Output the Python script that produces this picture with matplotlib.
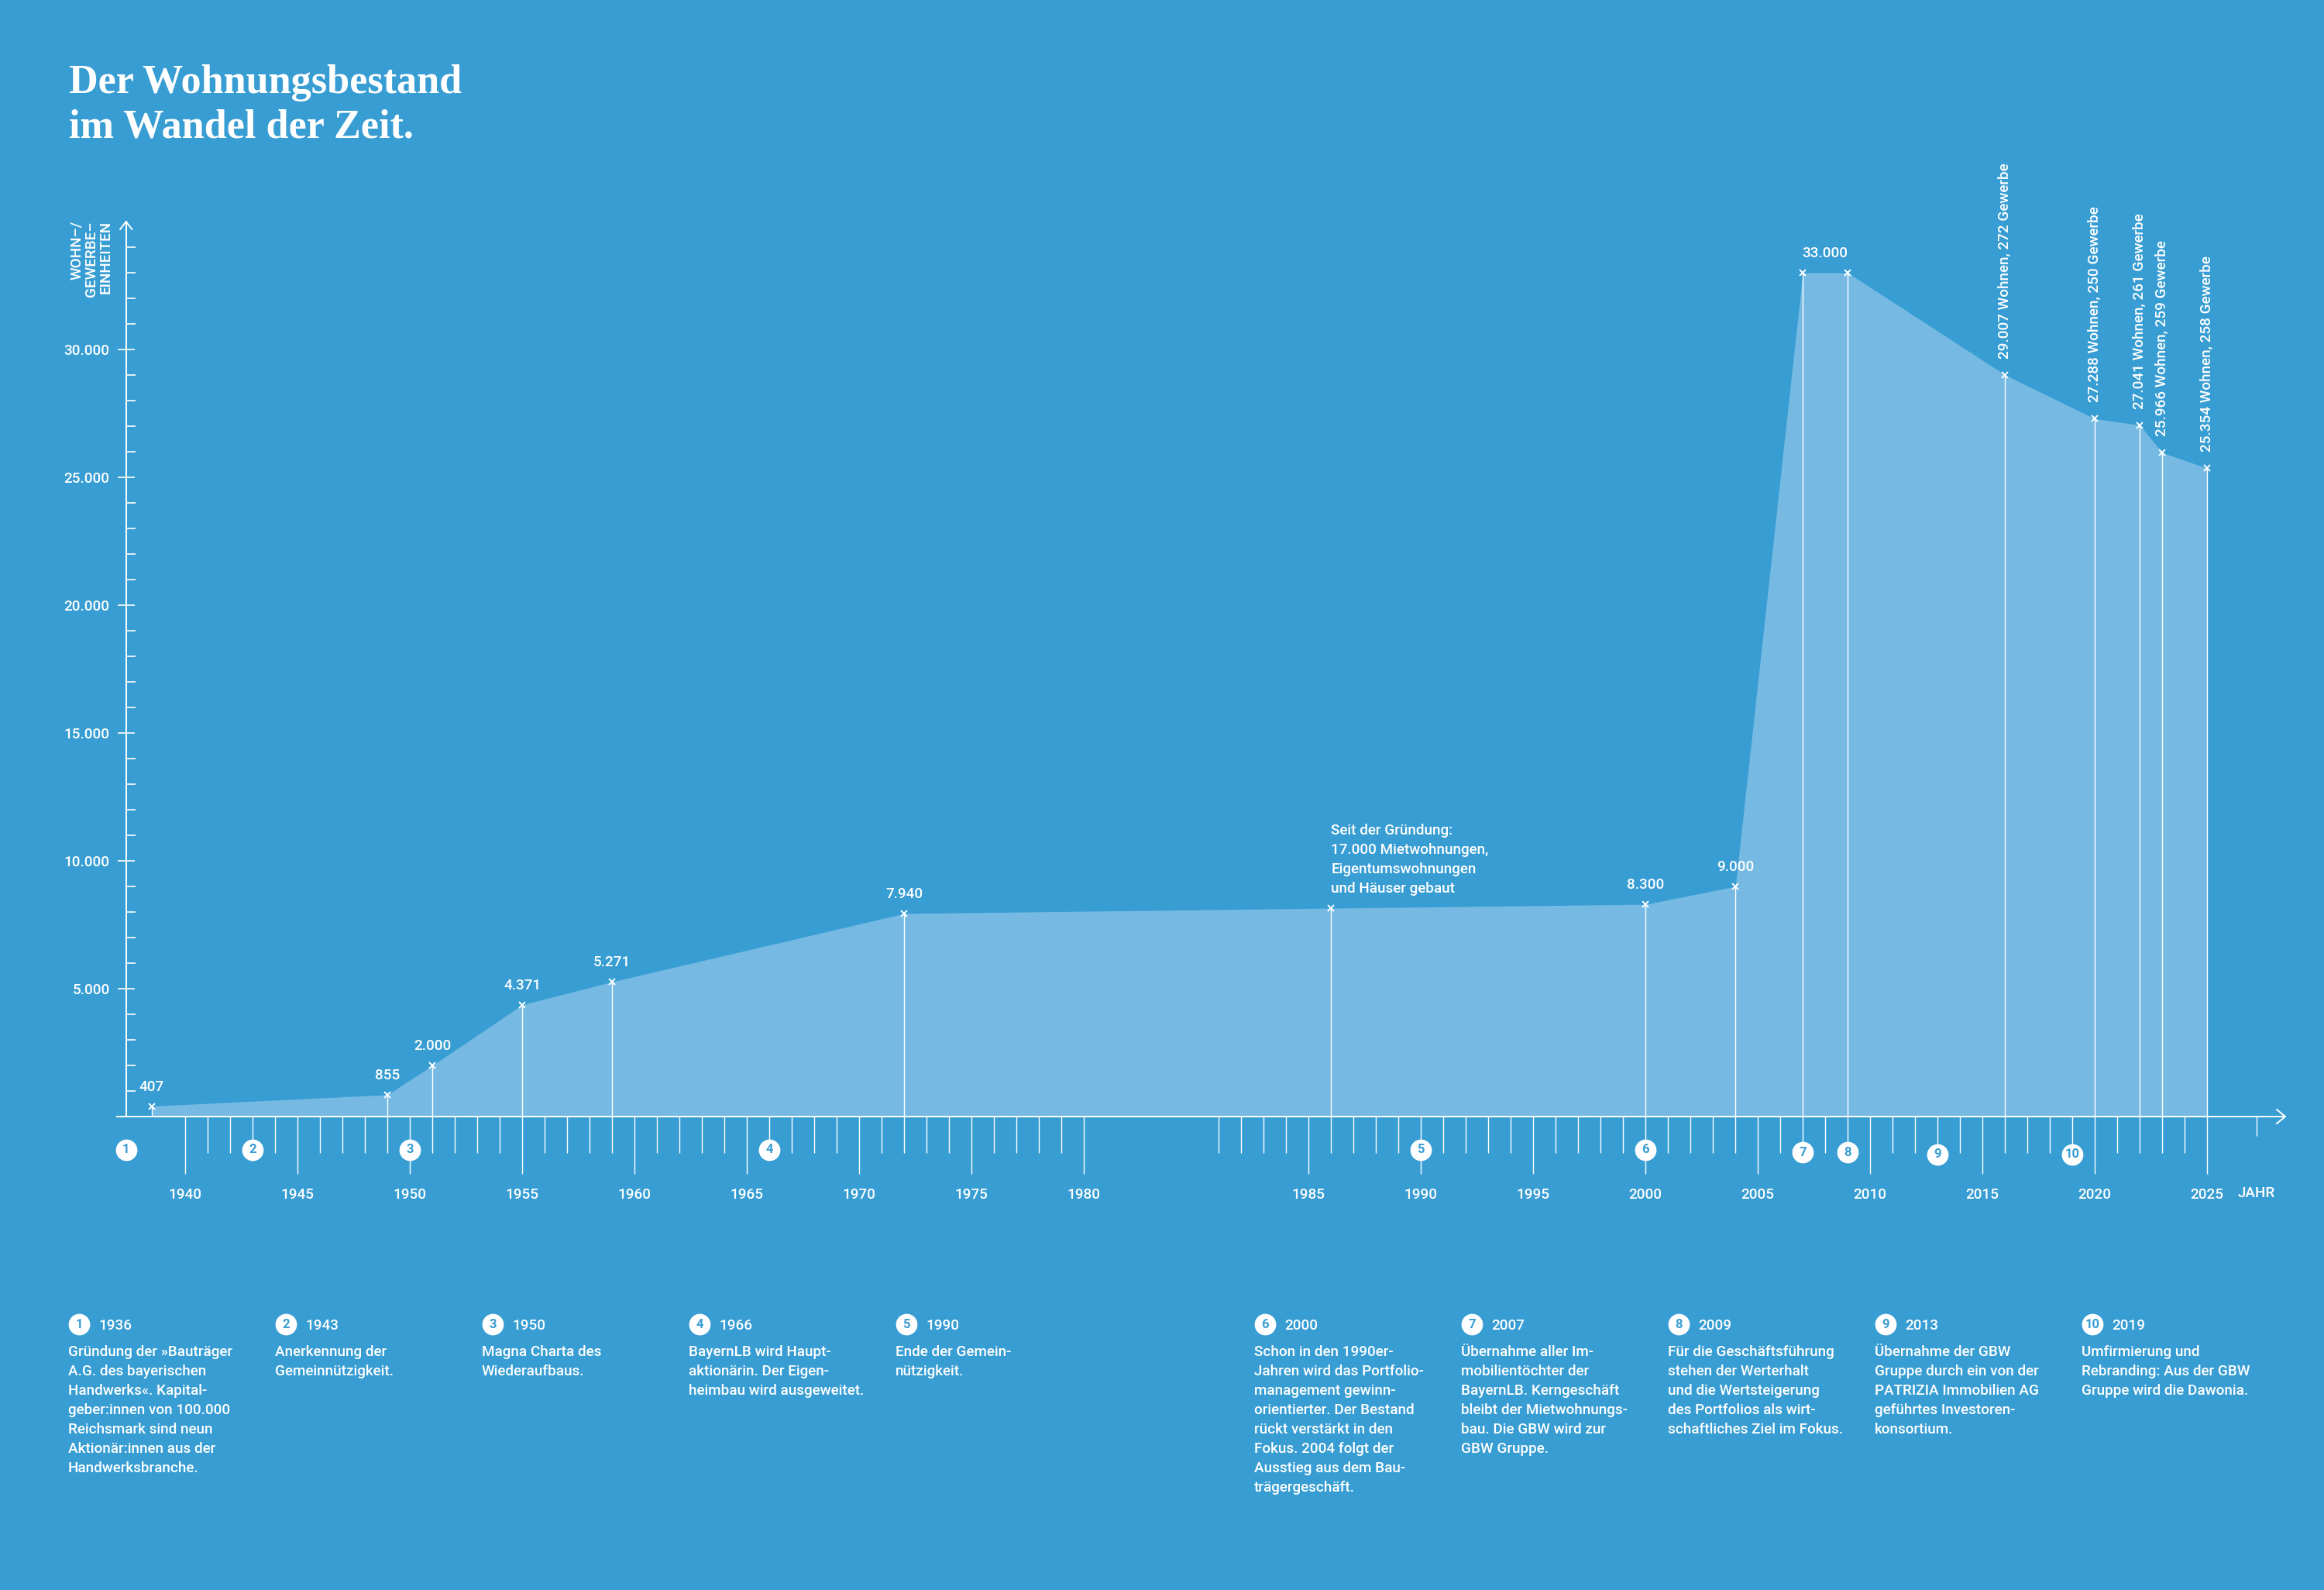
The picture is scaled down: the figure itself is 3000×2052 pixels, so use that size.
"""Wohnungsbestand timeline: filled area over a broken year axis, with event notes."""

import matplotlib

matplotlib.use("Agg")
import matplotlib.pyplot as plt

BG = "#379DD3"
FILL = "#76BAE3"
WHITE = "#FFFFFF"

# stock of flats / commercial units
years = [1938.5, 1949, 1951, 1955, 1959, 1972, 1986, 2000, 2004,
         2007, 2009, 2016, 2020, 2022, 2023, 2025]
units = [407, 855, 2000, 4371, 5271, 7940, 8150, 8300, 9000,
         33000, 33000, 29007, 27288, 27041, 25966, 25354]
point_labels = ["407", "855", "2.000", "4.371", "5.271", "7.940", None, "8.300", "9.000",
                "33.000", "33.000",
                "29.007 Wohnen, 272 Gewerbe", "27.288 Wohnen, 250 Gewerbe",
                "27.041 Wohnen, 261 Gewerbe", "25.966 Wohnen, 259 Gewerbe",
                "25.354 Wohnen, 258 Gewerbe"]
note_year = 1986
note_lines = ["Seit der Gründung:", "17.000 Mietwohnungen,",
              "Eigentumswohnungen", "und Häuser gebaut"]

event_years = [1936, 1943, 1950, 1966, 1990, 2000, 2007, 2009, 2013, 2019]
event_texts = [
    ["Gründung der »Bauträger", "A.G. des bayerischen", "Handwerks«. Kapital-",
     "geber:innen von 100.000", "Reichsmark sind neun", "Aktionär:innen aus der",
     "Handwerksbranche."],
    ["Anerkennung der", "Gemeinnützigkeit."],
    ["Magna Charta des", "Wiederaufbaus."],
    ["BayernLB wird Haupt-", "aktionärin. Der Eigen-", "heimbau wird ausgeweitet."],
    ["Ende der Gemein-", "nützigkeit."],
    ["Schon in den 1990er-", "Jahren wird das Portfolio-", "management gewinn-",
     "orientierter. Der Bestand", "rückt verstärkt in den", "Fokus. 2004 folgt der",
     "Ausstieg aus dem Bau-", "trägergeschäft."],
    ["Übernahme aller Im-", "mobilientöchter der", "BayernLB. Kerngeschäft",
     "bleibt der Mietwohnungs-", "bau. Die GBW wird zur", "GBW Gruppe."],
    ["Für die Geschäftsführung", "stehen der Werterhalt", "und die Wertsteigerung",
     "des Portfolios als wirt-", "schaftliches Ziel im Fokus."],
    ["Übernahme der GBW", "Gruppe durch ein von der", "PATRIZIA Immobilien AG",
     "geführtes Investoren-", "konsortium."],
    ["Umfirmierung und", "Rebranding: Aus der GBW", "Gruppe wird die Dawonia."],
]

tick_years = list(range(1940, 1981)) + list(range(1981, 2026))
y_major = [5000, 10000, 15000, 20000, 25000, 30000]
y_minor = [v for v in range(1000, 35000, 1000) if v % 5000]

# ---- layout (pixels of the 3000x2052 canvas) ----
W, H, DPI = 3000, 2052, 200
PT = 72 / DPI                      # points per pixel
X1940, PPY = 239.2, 29.0           # px of 1940, px per year
AX_L, AX_R = 151, 2950
Y0_PX, PPU = 1441, 0.033           # px of zero line, px per unit
Y_TOP = 35000
GAP_AFTER, GAP = 1980.5, 5         # axis break between 1980 and 1981
YAXIS_T = 1940 + (162.7 - X1940) / PPY
FS = 6.8
TXT = dict(color=WHITE, fontsize=FS, fontweight="medium")


def tx(year):
    return year + GAP if year > GAP_AFTER else year


def dy(px):
    return px / PPU


plt.rcParams.update({"font.family": ["Roboto", "Liberation Sans", "DejaVu Sans"],
                     "font.size": FS, "font.weight": "medium"})
fig = plt.figure(figsize=(W / DPI, H / DPI), dpi=DPI, facecolor=BG)
top_px = Y0_PX - Y_TOP * PPU
ax = fig.add_axes([AX_L / W, 1 - Y0_PX / H, (AX_R - AX_L) / W, (Y0_PX - top_px) / H])
ax.set_facecolor("none")
ax.set_xlim(1940 + (AX_L - X1940) / PPY, 1940 + (AX_R - X1940) / PPY)
ax.set_ylim(0, Y_TOP)

ts = [tx(y) for y in years]
ax.fill_between(ts, units, 0, color=FILL, lw=0, zorder=1)
ax.vlines(ts, 0, units, color=WHITE, lw=0.5, zorder=3)
ax.plot(ts, units, "x", ms=3, mew=0.7, color=WHITE, zorder=4)

# value labels
i = 0
while i < len(ts):
    lab = point_labels[i]
    if lab is None:
        i += 1
        continue
    if "Wohnen" in lab:
        ax.annotate(lab, (ts[i], units[i]), xytext=(0, 21 * PT), textcoords="offset points",
                    rotation=90, ha="center", va="bottom", **TXT)
        i += 1
        continue
    j = i
    while j + 1 < len(ts) and point_labels[j + 1] == lab:
        j += 1
    xc = (ts[i] + ts[j]) / 2
    ax.annotate(lab, (xc, units[i]), xytext=(0, 25 * PT), textcoords="offset points",
                ha="center", va="center", **TXT)
    i = j + 1

k = years.index(note_year)
for n, line in enumerate(reversed(note_lines)):
    ax.annotate(line, (ts[k], units[k]), xytext=(0, (20 + 25 * n) * PT),
                textcoords="offset points", ha="left", va="baseline", **TXT)

# axes, ticks
for side in ("top", "right"):
    ax.spines[side].set_visible(False)
ax.spines["left"].set_position(("data", YAXIS_T))
for side in ("left", "bottom"):
    ax.spines[side].set_color(WHITE)
    ax.spines[side].set_linewidth(0.7)
    ax.spines[side].set_zorder(3)

major = [y for y in tick_years if y % 5 == 0]
minor = [y for y in tick_years if y % 5]
ax.set_xticks([tx(y) for y in major], [str(y) for y in major])
ax.set_xticks([tx(y) for y in minor], minor=True)
ax.tick_params(axis="x", which="major", length=74 * PT, width=0.5, color=WHITE,
               labelcolor=WHITE, labelsize=FS, pad=18 * PT)
ax.tick_params(axis="x", which="minor", length=47 * PT, width=0.5, color=WHITE)

ax.set_yticks(y_major, [f"{v:,}".replace(",", ".") for v in y_major])
ax.set_yticks(y_minor, minor=True)
ax.tick_params(axis="y", which="major", direction="inout", length=22 * PT, width=0.6,
               color=WHITE, labelcolor=WHITE, labelsize=FS, pad=10 * PT)
ax.tick_params(axis="y", which="minor", direction="in", length=12 * PT, width=0.6,
               color=WHITE)

# "JAHR" end marker
jahr_t = tx(2027.2)
ax.vlines(jahr_t, -dy(25), 0, color=WHITE, lw=0.5, clip_on=False)
ax.text(jahr_t, -dy(99), "JAHR", ha="center", va="center", **TXT)

# event badges on the axis
badge_drop = [43, 43, 43, 43, 43, 43, 46, 46, 49, 49]
for n, (ey, drop) in enumerate(zip(event_years, badge_drop), start=1):
    bx = max(tx(ey), YAXIS_T)
    ax.plot(bx, -dy(drop), "o", ms=10, color=WHITE, mec="none", clip_on=False, zorder=5)
    ax.text(bx, -dy(drop), str(n), ha="center", va="center", color=BG,
            fontsize=6, fontweight="bold", zorder=6)

# ---- overlay in pixel coordinates: title, arrows, y label, footnotes ----
ov = fig.add_axes([0, 0, 1, 1])
ov.set_xlim(0, W)
ov.set_ylim(H, 0)
ov.axis("off")
ov.patch.set_alpha(0)

for n, line in enumerate(["Der Wohnungsbestand", "im Wandel der Zeit."]):
    ov.text(89, 120 + 58 * n, line, family="Liberation Serif", fontweight="bold",
            fontsize=18.8, color=WHITE, va="baseline", ha="left")

ov.plot([AX_R - 11, AX_R, AX_R - 11], [Y0_PX - 9, Y0_PX, Y0_PX + 9], color=WHITE, lw=0.7)
ov.plot([155, 162.7, 170.4], [top_px + 10, top_px, top_px + 10], color=WHITE, lw=0.7)

for x, line in zip([99.5, 118, 137], ["WOHN–/", "GEWERBE–", "EINHEITEN"]):
    ov.text(x, 285, line, rotation=90, ha="center", va="top", **TXT)

col_x = [88 + 267 * c for c in range(5)] + [1619 + 267 * c for c in range(5)]
for n, (cx, ey, lines) in enumerate(zip(col_x, event_years, event_texts), start=1):
    ov.plot(cx + 14, 1709, "o", ms=10, color=WHITE, mec="none")
    ov.text(cx + 14, 1709, str(n), ha="center", va="center", color=BG,
            fontsize=6, fontweight="bold")
    ov.text(cx + 39, 1716, str(ey), ha="left", va="baseline", **TXT)
    for m, line in enumerate(lines):
        ov.text(cx, 1750 + 25 * m, line, ha="left", va="baseline", **TXT)

fig.savefig("out.png", dpi=DPI, facecolor=BG)
